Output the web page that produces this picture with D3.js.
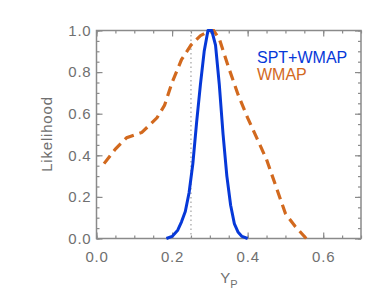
<!DOCTYPE html>
<html>
<head>
<meta charset="utf-8">
<script src="https://cdn.jsdelivr.net/npm/d3@7"></script>
<style>
	body {margin:0;background:#fff;}
	svg text {font-family:"Liberation Sans",Arial,sans-serif;}
</style>
</head>
<body>
<svg id="chart" width="389" height="300"></svg>
<script>
//WMAP alone : helium fraction likelihood (dashed)
var wmapYp = [0.02,0.05,0.08,0.12,0.16,0.18,0.20,0.225,0.25,0.275,0.30,0.31,0.325,0.35,0.375,0.40,0.425,0.45,0.475,0.50,0.525,0.555];
var wmapLike = [0.36,0.43,0.485,0.51,0.58,0.64,0.75,0.86,0.93,0.975,1.0,1.0,0.96,0.82,0.69,0.58,0.48,0.38,0.25,0.12,0.06,0.0];

//SPT+WMAP (solid)
var sptYp = [0.185,0.20,0.215,0.225,0.235,0.245,0.255,0.265,0.275,0.285,0.295,0.305,0.315,0.325,0.335,0.345,0.355,0.365,0.375,0.385,0.40];
var sptLike = [0.0,0.01,0.04,0.08,0.13,0.22,0.36,0.56,0.74,0.90,1.0,1.0,0.93,0.74,0.50,0.30,0.16,0.07,0.03,0.01,0.0];

//BBN prediction
var bbnYp = 0.25;

var xTicks = [0.0,0.2,0.4,0.6];
var yTicks = [0.0,0.2,0.4,0.6,0.8,1.0];
var legendNames = ['SPT+WMAP','WMAP'];

var axisColor = '#8a8a8a';
var textColor = '#707070';
var blue = '#0638d8';
var orange = '#d2691e';

var svg = d3.select('#chart');
var x = d3.scaleLinear().domain([0,0.7]).range([96.5,361]);
var y = d3.scaleLinear().domain([0,1.0]).range([238.5,30.5]);

//minor ticks every 0.05 on both axes
var xMinor = d3.range(0,0.7001,0.05);
var yMinor = d3.range(0,1.0001,0.05);

function styleAxis(g) {
	g.select('.domain').remove();
	g.selectAll('line').attr('stroke',axisColor).attr('stroke-width',1.2);
	g.selectAll('text').attr('fill',textColor).style('font-size','15px').style('letter-spacing','0.8px');
}

//bottom axis (minor then major)
svg.append('g').attr('transform','translate(0,238.5)')
	.call(d3.axisTop(x).tickValues(xMinor).tickSize(3).tickFormat(''))
	.call(styleAxis);
svg.append('g').attr('transform','translate(0,238.5)')
	.call(d3.axisBottom(x).tickValues(xTicks).tickSize(-6).tickPadding(13).tickFormat(d3.format('.1f')))
	.call(styleAxis);
//top axis
svg.append('g').attr('transform','translate(0,30.5)')
	.call(d3.axisBottom(x).tickValues(xMinor).tickSize(3).tickFormat(''))
	.call(styleAxis);
svg.append('g').attr('transform','translate(0,30.5)')
	.call(d3.axisBottom(x).tickValues(xTicks).tickSize(6).tickFormat(''))
	.call(styleAxis);
//left axis
svg.append('g').attr('transform','translate(96.5,0)')
	.call(d3.axisRight(y).tickValues(yMinor).tickSize(3).tickFormat(''))
	.call(styleAxis);
svg.append('g').attr('transform','translate(96.5,0)')
	.call(d3.axisLeft(y).tickValues(yTicks).tickSize(-6).tickPadding(5).tickFormat(d3.format('.1f')))
	.call(styleAxis);
//right axis
svg.append('g').attr('transform','translate(361,0)')
	.call(d3.axisLeft(y).tickValues(yMinor).tickSize(3).tickFormat(''))
	.call(styleAxis);
svg.append('g').attr('transform','translate(361,0)')
	.call(d3.axisLeft(y).tickValues(yTicks).tickSize(6).tickFormat(''))
	.call(styleAxis);

//frame
svg.append('rect')
	.attr('x',x(0)).attr('y',y(1.0))
	.attr('width',x(0.7)-x(0)).attr('height',y(0)-y(1.0))
	.attr('fill','none').attr('stroke',axisColor).attr('stroke-width',1.5);

//BBN dotted line
svg.append('line')
	.attr('x1',x(bbnYp)).attr('x2',x(bbnYp))
	.attr('y1',y(1.0)).attr('y2',y(0))
	.attr('stroke','#a8a8a8').attr('stroke-width',1.3)
	.attr('stroke-dasharray','1.5,3');

var line = d3.line()
	.x(function(d) { return x(d[0]); })
	.y(function(d) { return y(d[1]); });

svg.append('path')
	.datum(d3.zip(wmapYp,wmapLike))
	.attr('d',line)
	.attr('fill','none').attr('stroke',orange)
	.attr('stroke-width',3.2).attr('stroke-dasharray','10,6');

svg.append('path')
	.datum(d3.zip(sptYp,sptLike))
	.attr('d',line)
	.attr('fill','none').attr('stroke',blue)
	.attr('stroke-width',3).attr('stroke-linejoin','round');

//legend
var legColors = [blue,orange];
svg.selectAll('.leg').data(legendNames).enter().append('text')
	.attr('class','leg')
	.attr('x',257).attr('y',function(d,i) { return 63 + i*17; })
	.attr('fill',function(d,i) { return legColors[i]; })
	.style('font-size','16px')
	.text(function(d) { return d; });

//axis titles
svg.append('text')
	.attr('transform','translate(52,134) rotate(-90)')
	.attr('text-anchor','middle')
	.attr('fill',textColor)
	.style('font-size','15px').style('letter-spacing','0.8px')
	.text('Likelihood');

var xt = svg.append('text')
	.attr('x',229).attr('y',283)
	.attr('text-anchor','middle')
	.attr('fill',textColor)
	.style('font-size','15px');
xt.append('tspan').text('Y');
xt.append('tspan').attr('dy',5).style('font-size','11px').text('P');
</script>
</body>
</html>
